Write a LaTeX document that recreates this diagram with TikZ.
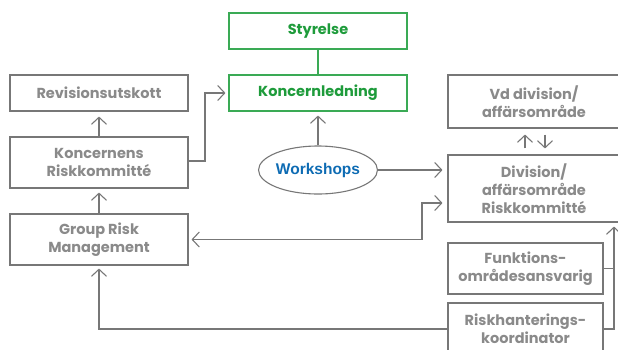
\documentclass[tikz,border=0pt]{standalone}
\usepackage{fontspec}
\setmainfont{Poppins}
\newfontfamily\wsfont{Liberation Sans}
\usetikzlibrary{arrows.meta,shapes.geometric,calc}
\definecolor{gtext}{HTML}{8A8A8A}
\definecolor{gline}{HTML}{777777}
\definecolor{grtext}{HTML}{1E9B3B}
\definecolor{grline}{HTML}{3AAA55}
\definecolor{btext}{HTML}{0D6BB3}
\begin{document}
\begin{tikzpicture}[x=1pt,y=-1pt,
  box/.style={draw=gline, line width=1.1pt, rectangle, align=center, text=gtext,
    font=\fontsize{14.5}{18}\selectfont\bfseries, inner sep=0pt},
  gbox/.style={box, draw=grline, text=grtext},
  conn/.style={draw=gline, line width=1.1pt},
  arr/.style={conn, -{Straight Barb[length=7pt,width=15pt]}},
  darr/.style={conn, {Straight Barb[length=7pt,width=15pt]}-{Straight Barb[length=7pt,width=15pt]}}]
\useasboundingbox (0,0) rectangle (618,349);
\node[gbox, minimum width=178pt, minimum height=36pt] (sty) at (318,31) {Styrelse};
\node[gbox, minimum width=178pt, minimum height=36pt] (kl) at (318,93) {Koncernledning};
\node[box, minimum width=178pt, minimum height=36pt] (rev) at (99,93) {Revisionsutskott};
\node[box, minimum width=178pt, minimum height=51pt] (krk) at (99,162.5) {Koncernens\\Riskkommitté};
\node[box, minimum width=178pt, minimum height=51pt] (grm) at (99,239.5) {Group Risk\\Management};
\node[box, minimum width=172pt, minimum height=53pt] (vd) at (534,101.5) {Vd division/\\affärsområde};
\node[box, minimum width=172pt, minimum height=67pt] (div) at (534,188.5) {Division/\\affärsområde\\Riskkommitté};
\node[box, minimum width=155pt, minimum height=51pt] (fun) at (525.5,268.5) {Funktions-\\områdesansvarig};
\node[box, minimum width=155pt, minimum height=52pt] (rhk) at (525.5,329) {Riskhanterings-\\koordinator};
\node[draw=gline, line width=1.1pt, ellipse, minimum width=117pt, minimum height=48pt, inner sep=0pt,
  text=btext, font=\wsfont\fontsize{15.5}{17}\selectfont\bfseries] (ws) at (318,170) {Workshops};
\coordinate (kx) at (205,0);
\coordinate (gx) at (422,0);
\coordinate (rx) at (614,0);
% connectors
\draw[conn, draw=grline] (sty) -- (kl);
\draw[arr, shorten >=5pt] (krk) -- (rev);
\draw[arr, shorten >=4pt] (grm) -- (krk);
\draw[arr, shorten >=3pt] ([yshift=1.5pt]krk.east) -| (kx |- kl.west) -- (kl.west);
\draw[arr, shorten >=4pt] (ws) -- (kl);
\draw[arr, shorten >=5pt] (ws.east) -- (ws.east -| div.west);
\draw[darr, shorten >=5pt, shorten <=3pt] (grm.east) -- (gx |- grm.east) -- ($(gx)+(0,203)$) -- ($(div.west)+(0,14.5)$);
\draw[arr, shorten >=6pt, shorten <=6pt] ([xshift=-9pt]div.north) -- ([xshift=-9pt]vd.south);
\draw[arr, shorten >=6pt, shorten <=6pt] ([xshift=11pt]vd.south) -- ([xshift=11pt]div.south |- div.north);
\draw[conn] (fun.east) -- (fun.east -| rx);
\draw[arr, shorten >=4pt] (rhk.east) -- (rhk.east -| rx) -- (rx |- div.south);
\draw[arr, shorten >=3pt] (rhk.west) -| (grm.south);
\end{tikzpicture}
\end{document}
